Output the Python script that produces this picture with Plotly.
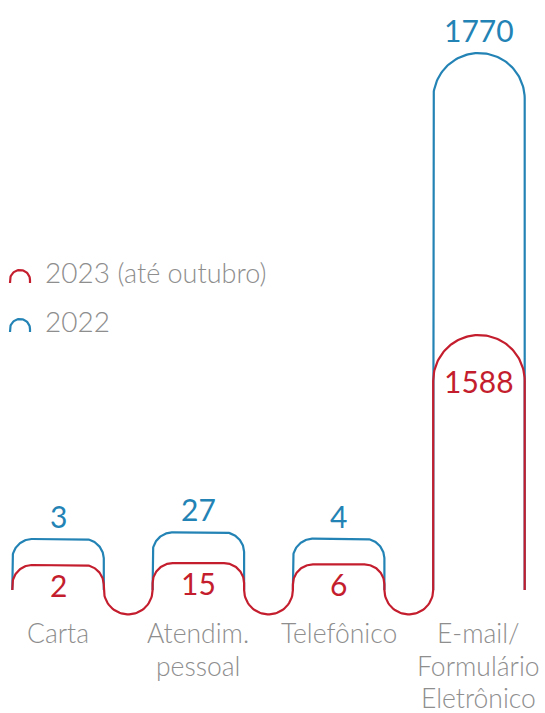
import numpy as np
import plotly.graph_objects as go

# ---------------- data ----------------
categories = ["Carta", "Atendim.<br>pessoal", "Telefônico", "E-mail/<br>Formulário<br>Eletrônico"]
values_2023 = [2, 15, 6, 1588]
values_2022 = [3, 27, 4, 1770]
series_names = ["2023", "2022"]
series_notes = ["(até outubro)", ""]

# ---------------- style ----------------
RED = "#c41e2e"
BLUE = "#2383b5"
GREY = "#8e8e8e"
FONT = "Source Sans Pro, Lato, Open Sans, sans-serif"
W, H = 545, 713
BASE = 590            # baseline, px from top
X0, PITCH, ARCH_W = 12.3, 140.3, 91.5
SCALES = {"2023": (24.7, 0.145), "2022": (50.2, 0.275)}   # (min height, px per unit)
R_MIN = 20
LW = 2.2
CAT_SIZE = 26.5
CAT_LINE = 32.5


def height(v, name):
    a, b = SCALES[name]
    return a + b * v


def radius(h, w):
    return min(w / 2, max(R_MIN, 0.18 * h), h)


def arch_pts(xl, xr, h, r, n=40):
    xs, ys = [xl], [0.0]
    t = np.linspace(np.pi, np.pi / 2, n)
    xs += list(xl + r + r * np.cos(t)); ys += list(h - r + r * np.sin(t))
    t = np.linspace(np.pi / 2, 0, n)
    xs += list(xr - r + r * np.cos(t)); ys += list(h - r + r * np.sin(t))
    xs.append(xr); ys.append(0.0)
    return xs, ys


def valley_pts(xa, xb, n=40):
    cx, R = (xa + xb) / 2, (xb - xa) / 2
    t = np.linspace(np.pi, 2 * np.pi, n)
    return list(cx + R * np.cos(t)), list(R * np.sin(t))


fig = go.Figure()
n = len(categories)
lefts = [X0 + PITCH * i for i in range(n)]
rights = [l + ARCH_W for l in lefts]
centers = [l + ARCH_W / 2 for l in lefts]

# 2022 arches (separate)
for i in range(n):
    h = height(values_2022[i], "2022")
    r = radius(h, ARCH_W)
    xs, ys = arch_pts(lefts[i], rights[i], h, r)
    fig.add_trace(go.Scatter(x=xs, y=ys, mode="lines", line=dict(color=BLUE, width=LW),
                             hoverinfo="skip", showlegend=False))
    fig.add_annotation(x=centers[i], y=h + 23, text=str(values_2022[i]), showarrow=False,
                       xanchor="center", yanchor="middle",
                       font=dict(family=FONT, size=30, color=BLUE))

# 2023 continuous line
rx, ry = [], []
for i in range(n):
    h = height(values_2023[i], "2023")
    r = radius(h, ARCH_W)
    xs, ys = arch_pts(lefts[i], rights[i], h, r)
    rx += xs; ry += ys
    if i < n - 1:
        vx, vy = valley_pts(rights[i], lefts[i + 1])
        rx += vx; ry += vy
    fig.add_annotation(x=centers[i], y=h - r, text=str(values_2023[i]), showarrow=False,
                       xanchor="center", yanchor="middle",
                       font=dict(family=FONT, size=30, color=RED))
fig.add_trace(go.Scatter(x=rx, y=ry, mode="lines", line=dict(color=RED, width=LW),
                         hoverinfo="skip", showlegend=False))

# category labels (one annotation per line for tight spacing)
for i in range(n):
    for j, line in enumerate(categories[i].split("<br>")):
        fig.add_annotation(x=centers[i], y=BASE - (633 + CAT_LINE * j), text=line,
                           showarrow=False, xanchor="center", yanchor="middle",
                           font=dict(family=FONT, size=CAT_SIZE, color=GREY, weight=300))

# legend
for k, (name, note, col) in enumerate(zip(series_names, series_notes, [RED, BLUE])):
    base = 307 - 49 * k
    xs, ys = arch_pts(10, 30, 13, 10, n=20)
    fig.add_trace(go.Scatter(x=xs, y=[base + y for y in ys], mode="lines",
                             line=dict(color=col, width=LW), hoverinfo="skip", showlegend=False))
    txt = name + (" <span style='font-size:27px'>" + note + "</span>" if note else "")
    fig.add_annotation(x=43, y=base + 11, text=txt, showarrow=False, xanchor="left",
                       yanchor="middle", font=dict(family=FONT, size=28, color=GREY, weight=300))

fig.update_layout(
    width=W, height=H, margin=dict(l=0, r=0, t=0, b=0),
    paper_bgcolor="white", plot_bgcolor="white",
    xaxis=dict(range=[0, W], visible=False, fixedrange=True),
    yaxis=dict(range=[-(H - BASE), BASE], visible=False, fixedrange=True),
)
fig.write_html("out.html")
